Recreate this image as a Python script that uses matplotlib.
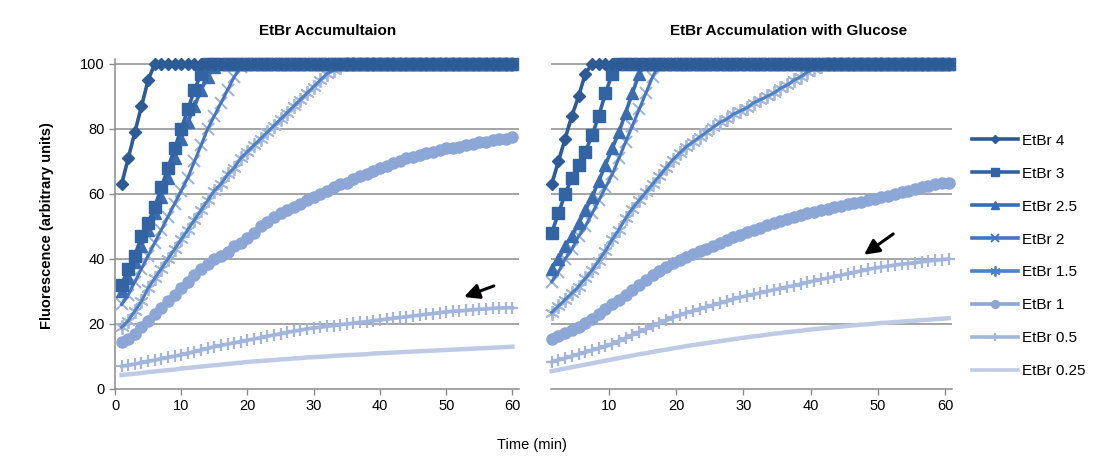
import matplotlib
matplotlib.use("Agg")
import matplotlib.pyplot as plt
from matplotlib.lines import Line2D

plt.rcParams['font.family'] = ['Liberation Sans', 'DejaVu Sans']

# ---------------- data ----------------
labels = ["EtBr 4", "EtBr 3", "EtBr 2.5", "EtBr 2", "EtBr 1.5", "EtBr 1", "EtBr 0.5", "EtBr 0.25"]

time_left = [1, 2, 3, 4, 5, 6, 7, 8, 9, 10,
             11, 12, 13, 14, 15, 16, 17, 18, 19, 20,
             21, 22, 23, 24, 25, 26, 27, 28, 29, 30,
             31, 32, 33, 34, 35, 36, 37, 38, 39, 40,
             41, 42, 43, 44, 45, 46, 47, 48, 49, 50,
             51, 52, 53, 54, 55, 56, 57, 58, 59, 60]

time_right = [1.5, 2.5, 3.5, 4.5, 5.5, 6.5, 7.5, 8.5, 9.5, 10.5,
              11.5, 12.5, 13.5, 14.5, 15.5, 16.5, 17.5, 18.5, 19.5, 20.5,
              21.5, 22.5, 23.5, 24.5, 25.5, 26.5, 27.5, 28.5, 29.5, 30.5,
              31.5, 32.5, 33.5, 34.5, 35.5, 36.5, 37.5, 38.5, 39.5, 40.5,
              41.5, 42.5, 43.5, 44.5, 45.5, 46.5, 47.5, 48.5, 49.5, 50.5,
              51.5, 52.5, 53.5, 54.5, 55.5, 56.5, 57.5, 58.5, 59.5, 60.5]

# Left panel: EtBr accumulation
L_etbr4 = [63, 71, 79, 87, 95, 100, 100, 100, 100, 100,
           100, 100, 100, 100, 100, 100, 100, 100, 100, 100,
           100, 100, 100, 100, 100, 100, 100, 100, 100, 100,
           100, 100, 100, 100, 100, 100, 100, 100, 100, 100,
           100, 100, 100, 100, 100, 100, 100, 100, 100, 100,
           100, 100, 100, 100, 100, 100, 100, 100, 100, 100]
L_etbr3 = [32, 37, 41, 47, 51, 56, 62, 68, 74, 80,
           86, 92, 97, 100, 100, 100, 100, 100, 100, 100,
           100, 100, 100, 100, 100, 100, 100, 100, 100, 100,
           100, 100, 100, 100, 100, 100, 100, 100, 100, 100,
           100, 100, 100, 100, 100, 100, 100, 100, 100, 100,
           100, 100, 100, 100, 100, 100, 100, 100, 100, 100]
L_etbr25 = [30, 34, 39, 44, 49, 54, 59, 65, 71, 77,
            82, 87, 92, 96, 99, 100, 100, 100, 100, 100,
            100, 100, 100, 100, 100, 100, 100, 100, 100, 100,
            100, 100, 100, 100, 100, 100, 100, 100, 100, 100,
            100, 100, 100, 100, 100, 100, 100, 100, 100, 100,
            100, 100, 100, 100, 100, 100, 100, 100, 100, 100]
L_etbr2 = [26, 29, 33, 37, 41, 45, 49, 53, 57, 61,
           65, 70, 75, 80, 84, 88, 92, 96, 99, 100,
           100, 100, 100, 100, 100, 100, 100, 100, 100, 100,
           100, 100, 100, 100, 100, 100, 100, 100, 100, 100,
           100, 100, 100, 100, 100, 100, 100, 100, 100, 100,
           100, 100, 100, 100, 100, 100, 100, 100, 100, 100]
L_etbr15 = [19, 21, 24, 27, 31, 34, 37, 40, 43, 46,
            49, 52, 55, 58, 61, 63, 66, 68, 71, 73,
            75, 77, 79, 81, 83, 85, 87, 89, 91, 93,
            95, 97, 98, 99, 100, 100, 100, 100, 100, 100,
            100, 100, 100, 100, 100, 100, 100, 100, 100, 100,
            100, 100, 100, 100, 100, 100, 100, 100, 100, 100]
L_etbr1 = [14.5, 15.5, 17, 19, 21, 23, 25, 27, 29, 31,
           33, 35, 37, 38.5, 40, 41, 42, 44, 45, 46.5,
           48, 50, 51.5, 53, 54, 55, 56, 57, 58, 59,
           60, 61, 62, 63, 63.5, 64.5, 65.5, 66, 67, 68,
           68.5, 69.5, 70, 71, 71.5, 72, 72.5, 73, 73.5, 74,
           74, 74.5, 75, 75.5, 76, 76, 76.5, 77, 77, 77.5]
L_etbr05 = [7.0, 7.3, 7.7, 8.1, 8.5, 8.9, 9.3, 9.7, 10.1, 10.5,
            11.0, 11.5, 12.0, 12.5, 13.0, 13.4, 13.8, 14.2, 14.6, 15.0,
            15.4, 15.8, 16.2, 16.6, 17.0, 17.4, 17.8, 18.1, 18.5, 18.8,
            19.0, 19.3, 19.5, 19.8, 20.0, 20.2, 20.5, 20.7, 21.0, 21.2,
            21.5, 21.7, 22.0, 22.2, 22.5, 22.7, 23.0, 23.2, 23.5, 23.7,
            23.9, 24.0, 24.2, 24.4, 24.5, 24.6, 24.8, 24.9, 25.0, 25.0]
L_etbr025 = [4.3, 4.5, 4.7, 4.9, 5.2, 5.4, 5.6, 5.8, 6.0, 6.3,
             6.5, 6.7, 6.9, 7.1, 7.3, 7.5, 7.7, 7.9, 8.1, 8.3,
             8.5, 8.6, 8.8, 8.9, 9.1, 9.2, 9.4, 9.5, 9.7, 9.8,
             9.9, 10.0, 10.2, 10.3, 10.4, 10.5, 10.6, 10.7, 10.9, 11.0,
             11.1, 11.2, 11.3, 11.4, 11.5, 11.6, 11.7, 11.8, 11.9, 12.0,
             12.1, 12.2, 12.3, 12.4, 12.5, 12.6, 12.7, 12.8, 12.9, 13.0]

# Right panel: EtBr accumulation with glucose
R_etbr4 = [63, 70, 77, 84, 90, 97, 100, 100, 100, 100,
           100, 100, 100, 100, 100, 100, 100, 100, 100, 100,
           100, 100, 100, 100, 100, 100, 100, 100, 100, 100,
           100, 100, 100, 100, 100, 100, 100, 100, 100, 100,
           100, 100, 100, 100, 100, 100, 100, 100, 100, 100,
           100, 100, 100, 100, 100, 100, 100, 100, 100, 100]
R_etbr3 = [48, 54, 60, 65, 69, 73, 78, 84, 91, 97,
           100, 100, 100, 100, 100, 100, 100, 100, 100, 100,
           100, 100, 100, 100, 100, 100, 100, 100, 100, 100,
           100, 100, 100, 100, 100, 100, 100, 100, 100, 100,
           100, 100, 100, 100, 100, 100, 100, 100, 100, 100,
           100, 100, 100, 100, 100, 100, 100, 100, 100, 100]
R_etbr25 = [37, 40, 44, 47, 51, 55, 59, 64, 69, 74,
            79, 85, 91, 97, 100, 100, 100, 100, 100, 100,
            100, 100, 100, 100, 100, 100, 100, 100, 100, 100,
            100, 100, 100, 100, 100, 100, 100, 100, 100, 100,
            100, 100, 100, 100, 100, 100, 100, 100, 100, 100,
            100, 100, 100, 100, 100, 100, 100, 100, 100, 100]
R_etbr2 = [33, 36, 40, 43, 47, 50, 54, 58, 62, 66,
           71, 76, 81, 86, 91, 96, 100, 100, 100, 100,
           100, 100, 100, 100, 100, 100, 100, 100, 100, 100,
           100, 100, 100, 100, 100, 100, 100, 100, 100, 100,
           100, 100, 100, 100, 100, 100, 100, 100, 100, 100,
           100, 100, 100, 100, 100, 100, 100, 100, 100, 100]
R_etbr15 = [23.5, 25.5, 27.5, 29.5, 31.5, 34, 36.5, 39.5, 42.5, 46,
            49, 52.5, 55.5, 58, 60.5, 63, 65.5, 68, 70.5, 72.5,
            74.5, 76, 77.5, 79, 80.5, 82, 83, 84.5, 85.5, 86.5,
            88, 89, 90, 91, 92.5, 93.5, 95, 96, 97.5, 98.5,
            99.5, 100, 100, 100, 100, 100, 100, 100, 100, 100,
            100, 100, 100, 100, 100, 100, 100, 100, 100, 100]
R_etbr1 = [15.5, 16.3, 17.1, 18, 19, 20.2, 21.5, 23, 24.5, 26,
           27.5, 29, 30.5, 32, 33.5, 35, 36.3, 37.5, 38.7, 39.8,
           40.7, 41.5, 42.3, 43.1, 44, 44.9, 45.8, 46.7, 47.5, 48.2,
           48.9, 49.6, 50.3, 51, 51.6, 52.2, 52.8, 53.4, 54, 54.5,
           55, 55.5, 56, 56.4, 56.8, 57.2, 57.6, 58, 58.5, 59,
           59.5, 60, 60.5, 61, 61.5, 62, 62.5, 63, 63.3, 63.5]
R_etbr05 = [8.3, 8.9, 9.5, 10.1, 10.7, 11.3, 11.9, 12.5, 13.1, 13.9,
            14.8, 15.7, 16.6, 17.5, 18.4, 19.3, 20.2, 21.1, 22.0, 22.7,
            23.4, 24.0, 24.6, 25.2, 25.8, 26.4, 27.0, 27.6, 28.2, 28.7,
            29.1, 29.6, 30.0, 30.5, 30.9, 31.4, 31.8, 32.3, 32.8, 33.2,
            33.7, 34.1, 34.6, 35.0, 35.5, 35.9, 36.3, 36.8, 37.2, 37.5,
            37.8, 38.1, 38.4, 38.6, 38.9, 39.1, 39.4, 39.6, 39.8, 40.0]
R_etbr025 = [5.5, 5.9, 6.3, 6.7, 7.1, 7.5, 7.9, 8.3, 8.7, 9.1,
             9.5, 9.9, 10.3, 10.7, 11.0, 11.4, 11.8, 12.1, 12.5, 12.8,
             13.2, 13.5, 13.8, 14.1, 14.4, 14.7, 15.0, 15.3, 15.6, 15.9,
             16.2, 16.4, 16.7, 17.0, 17.2, 17.5, 17.7, 17.9, 18.2, 18.4,
             18.6, 18.8, 19.0, 19.2, 19.4, 19.6, 19.8, 19.9, 20.1, 20.3,
             20.4, 20.6, 20.7, 20.9, 21.0, 21.2, 21.3, 21.5, 21.6, 21.8]

left_series = [L_etbr4, L_etbr3, L_etbr25, L_etbr2, L_etbr15, L_etbr1, L_etbr05, L_etbr025]
right_series = [R_etbr4, R_etbr3, R_etbr25, R_etbr2, R_etbr15, R_etbr1, R_etbr05, R_etbr025]

# ---------------- styles ----------------
styles = [
    dict(color="#2C5B95", marker="D", ms=6.5, mec="#2C5B95", mfc="#2C5B95", lw=2.6, mew=1, split=False),
    dict(color="#3263A3", marker="s", ms=8, mec="#3263A3", mfc="#3263A3", lw=2.6, mew=1, split=False),
    dict(color="#3A6CB1", marker="^", ms=8, mec="#3A6CB1", mfc="#3A6CB1", lw=2.6, mew=1, split=False),
    dict(color="#4576BD", marker="x", ms=8.5, mec="#9CB3D9", mfc="none", lw=2.2, mew=1.4, split=True),
    dict(color="#4E80C4", marker=(6, 2, 0), ms=10.5, mec="#A3B8DB", mfc="none", lw=2.2, mew=1.3, split=True),
    dict(color="#8CA6D6", marker="o", ms=8, mec="#8CA6D6", mfc="#8CA6D6", lw=3.0, mew=1, split=False),
    dict(color="#A2B5DA", marker="+", ms=9, mec="#A2B5DA", mfc="none", lw=2.6, mew=1.6, split=False),
    dict(color="#BFCBE4", marker="None", ms=0, mec="#BFCBE4", mfc="none", lw=3.2, mew=1, split=False),
]

W, H = 1113, 459
fig = plt.figure(figsize=(W / 100, H / 100), dpi=100)
fig.patch.set_facecolor("white")

def px_axes(x0, x1, y_top, y_bot):
    return fig.add_axes([x0 / W, (H - y_bot) / H, (x1 - x0) / W, (y_bot - y_top) / H])

ax1 = px_axes(115, 519, 59, 389)
ax2 = px_axes(551, 952, 59, 389)

grid_c = "#8C8C8C"
for ax, t, series in [(ax1, time_left, left_series), (ax2, time_right, right_series)]:
    n = len(series)
    for i, (s, st) in enumerate(zip(series, styles)):
        z = 3 + 2 * (n - i)
        if st["split"]:
            ax.plot(t, s, linestyle="None", marker=st["marker"], ms=st["ms"],
                    mec=st["mec"], mfc=st["mfc"], mew=st["mew"], zorder=z, clip_on=False)
            ax.plot(t, s, color=st["color"], lw=st["lw"], zorder=z + 1, clip_on=False)
        else:
            ax.plot(t, s, color=st["color"], lw=st["lw"], marker=st["marker"], ms=st["ms"],
                    mec=st["mec"], mfc=st["mfc"], mew=st["mew"], zorder=z, clip_on=False)
    ax.set_ylim(0, 101.5)
    ax.set_yticks([0, 20, 40, 60, 80, 100])
    for yv in [20, 40, 60, 80, 100]:
        ax.axhline(yv, color=grid_c, lw=1.1, zorder=1)
    for sp in ["top", "right"]:
        ax.spines[sp].set_visible(False)
    ax.spines["bottom"].set_color(grid_c)
    ax.spines["bottom"].set_linewidth(1.1)
    ax.tick_params(axis="both", colors=grid_c, labelcolor="black", labelsize=10.5,
                   length=4, width=1.0, direction="out")
    ax.set_xticks([0, 10, 20, 30, 40, 50, 60])

ax1.set_xlim(0, 61)
ax1.spines["left"].set_color(grid_c)
ax1.spines["left"].set_linewidth(1.1)
ax2.set_xlim(1.4, 61)
ax2.set_xticks([10, 20, 30, 40, 50, 60])
ax2.spines["left"].set_visible(False)
ax2.tick_params(axis="y", left=False, labelleft=False)

# titles / labels
fig.text(328 / W, 1 - 31 / H, "EtBr Accumultaion", ha="center", va="center",
         fontsize=11, fontweight="bold")
fig.text(789 / W, 1 - 31 / H, "EtBr Accumulation with Glucose", ha="center", va="center",
         fontsize=11, fontweight="bold")
fig.text(47 / W, 1 - 226 / H, "Fluorescence (arbitrary units)", ha="center", va="center",
         rotation=90, fontsize=10.5, fontweight="bold")
fig.text(532 / W, 1 - 445 / H, "Time (min)", ha="center", va="center", fontsize=10.5)

# arrows
arrow_kw = dict(arrowstyle="-|>,head_length=0.9,head_width=0.45", color="black", lw=2.2)
ax1.annotate("", xy=(52.3, 28), xytext=(57.6, 32), arrowprops=arrow_kw)
ax2.annotate("", xy=(47.6, 40.8), xytext=(52.6, 48.2), arrowprops=arrow_kw)

# legend
handles = []
for lab, st in zip(labels, styles):
    handles.append(Line2D([0], [0], color=st["color"], lw=2.6, marker=st["marker"],
                          ms=st["ms"] * 0.7, mec=st["color"], mfc=st["color"], mew=st["mew"]))
fig.legend(handles, labels, loc="center left", bbox_to_anchor=(972 / W, 1 - 256 / H),
           frameon=False, fontsize=11, handlelength=3.0, handletextpad=0.3,
           labelspacing=1.24, borderpad=0, borderaxespad=0)

fig.savefig("out.png", dpi=100, facecolor="white")
